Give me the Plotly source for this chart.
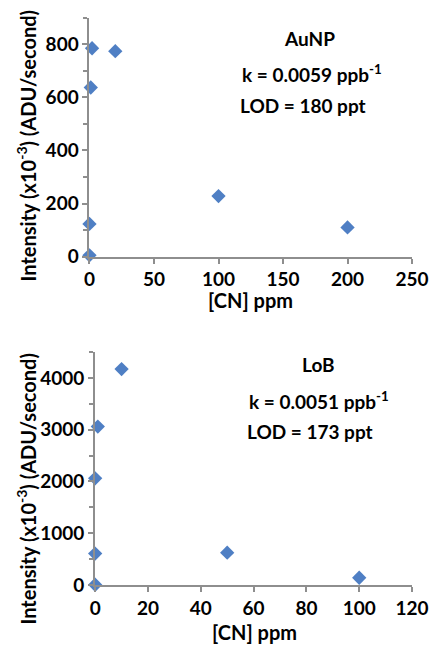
import plotly.graph_objects as go

# AuNP calibration data
aunp_cn = [2, 20, 1, 0, 0, 100, 200]
aunp_int = [785, 774, 637, 123, 5, 228, 110]

# LoB calibration data
lob_cn = [10, 1, 0, 0, 0, 50, 100]
lob_int = [4170, 3060, 2060, 606, 5, 625, 140]

W, H = 448, 654
FONT = "Lato"
WEIGHT = 700
MARK = "#4f7fc4"
AXC = "#8e8e8e"

def px(x):
    return x / W

def py(y):
    return 1 - y / H

fig = go.Figure()
fig.add_trace(go.Scatter(x=aunp_cn, y=aunp_int, mode="markers", xaxis="x", yaxis="y",
                         marker=dict(symbol="diamond", size=11, color=MARK), cliponaxis=False))
fig.add_trace(go.Scatter(x=lob_cn, y=lob_int, mode="markers", xaxis="x2", yaxis="y2",
                         marker=dict(symbol="diamond", size=11, color=MARK), cliponaxis=False))

def axis_style(**kw):
    d = dict(showgrid=False, zeroline=False, showline=True, linecolor=AXC, linewidth=2,
             ticks="outside", ticklen=5, tickwidth=2, tickcolor=AXC,
             tickfont=dict(family=FONT, size=19, color="black", weight=WEIGHT))
    d.update(kw)
    return d

fig.update_layout(
    width=W, height=H, margin=dict(l=0, r=0, t=0, b=0),
    paper_bgcolor="white", plot_bgcolor="white", showlegend=False,
    xaxis=axis_style(domain=[px(88), px(428)], range=[0, 250], dtick=50, anchor="y"),
    yaxis=axis_style(domain=[py(261), py(18)], range=[0, 900], dtick=200, anchor="x",
                     minor=dict(dtick=100, ticks="outside", ticklen=4, tickcolor=AXC, tickwidth=2)),
    xaxis2=axis_style(domain=[px(94), px(428)], range=[0, 120], dtick=20, anchor="y2"),
    yaxis2=axis_style(domain=[py(595), py(358)], range=[0, 4500], dtick=1000, anchor="x2",
                      minor=dict(dtick=500, ticks="outside", ticklen=4, tickcolor=AXC, tickwidth=2)),
)

def label(text, x, y, size=19, angle=0):
    fig.add_annotation(text=text, x=px(x), y=py(y), xref="paper", yref="paper",
                       showarrow=False, textangle=angle, xanchor="center", yanchor="middle",
                       font=dict(family=FONT, size=size, color="black", weight=WEIGHT))

ytitle = "Intensity (x10<sup>-3</sup>) (ADU/second)"
label(ytitle, 21, 148, size=20, angle=-90)
label(ytitle, 21, 497, size=20, angle=-90)
label("[CN] ppm", 258, 305, size=20)
label("[CN] ppm", 262, 643, size=20)

label("AuNP", 320, 39)
label("k = 0.0059 ppb<sup>-1</sup>", 323, 75)
label("LOD = 180 ppt", 313, 107)

label("LoB", 329, 371)
label("k = 0.0051 ppb<sup>-1</sup>", 330, 407)
label("LOD = 173 ppt", 320, 439)

fig.write_html("out.html")
